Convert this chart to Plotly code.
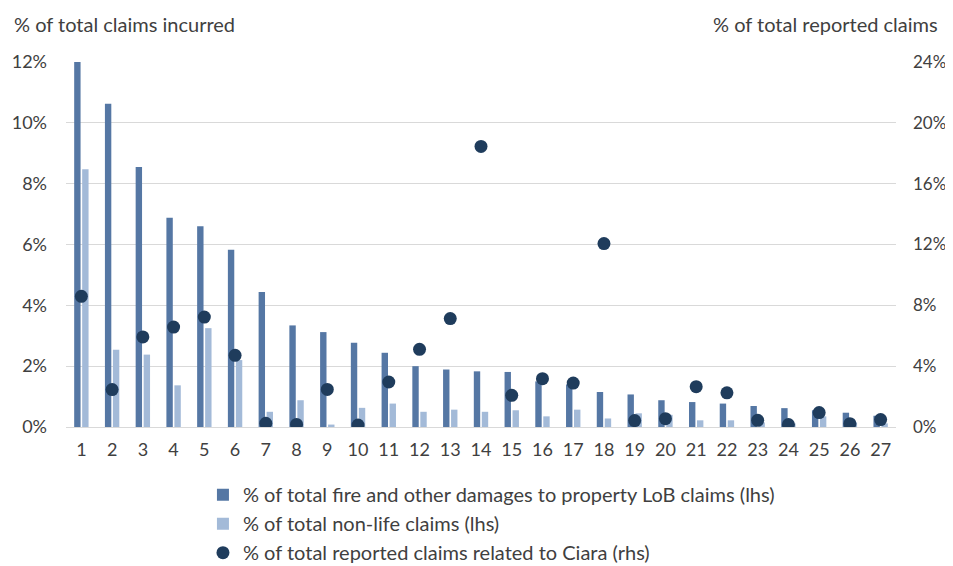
import plotly.graph_objects as go

categories = [str(i) for i in range(1, 28)]
fire_property = [12.0, 10.63, 8.55, 6.88, 6.60, 5.83, 4.44, 3.34, 3.12, 2.77,
                 2.44, 2.0, 1.89, 1.83, 1.81, 1.5, 1.4, 1.15, 1.07, 0.88,
                 0.82, 0.77, 0.69, 0.62, 0.55, 0.47, 0.37]
non_life = [8.47, 2.54, 2.38, 1.37, 3.25, 2.2, 0.5, 0.88, 0.08, 0.63,
            0.77, 0.5, 0.57, 0.5, 0.55, 0.35, 0.57, 0.28, 0.45, 0.4,
            0.22, 0.22, 0.15, 0.12, 0.35, 0.15, 0.12]
ciara = [8.59, 2.46, 5.92, 6.57, 7.23, 4.71, 0.24, 0.17, 2.47, 0.13,
         2.96, 5.11, 7.13, 18.45, 2.08, 3.18, 2.89, 12.06, 0.42, 0.55,
         2.65, 2.25, 0.44, 0.16, 0.95, 0.22, 0.49]
left_ticks = [0, 2, 4, 6, 8, 10, 12]
right_ticks = [0, 4, 8, 12, 16, 20, 24]

FONT = "Lato"
TXT = "#404040"

fig = go.Figure()
fig.add_trace(go.Bar(
    x=categories, y=fire_property,
    name="% of total fire and other damages to property LoB claims (lhs)",
    marker=dict(color="#5577A4", line=dict(width=0)),
    legendgroup="a", yaxis="y",
))
fig.add_trace(go.Bar(
    x=categories, y=non_life,
    name="% of total non-life claims (lhs)",
    marker=dict(color="#A3BAD8", line=dict(width=0)),
    legendgroup="b", yaxis="y",
))
fig.add_trace(go.Scatter(
    x=categories, y=ciara, mode="markers",
    name="% of total reported claims related to Ciara (rhs)",
    marker=dict(color="#1F3C5C", size=13, line=dict(width=0)),
    legendgroup="c", yaxis="y2",
))

fig.update_layout(
    width=945, height=558,
    margin=dict(l=58, r=57, t=54, b=139, autoexpand=False),
    paper_bgcolor="white", plot_bgcolor="white",
    font=dict(family=FONT, size=18, color=TXT),
    barmode="group", bargap=0.48, bargroupgap=0.2,
    showlegend=True,
    legend=dict(
        orientation="v", x=0.165, y=-0.132, xanchor="left", yanchor="top",
        font=dict(family=FONT, size=20, color=TXT),
        tracegroupgap=0, itemwidth=30, traceorder="normal",
        bgcolor="rgba(0,0,0,0)",
    ),
    xaxis=dict(
        type="category", range=[-0.5, 26.5], showgrid=False, zeroline=False,
        showline=True, linecolor="#D9D9D9", linewidth=1,
        ticks="", ticklabelstandoff=6,
        tickfont=dict(family=FONT, size=18, color=TXT),
    ),
    yaxis=dict(
        range=[0, 12], tickvals=left_ticks,
        ticktext=[f"{v}%" for v in left_ticks],
        showgrid=True, gridcolor="#D9D9D9", gridwidth=1,
        zeroline=False, showline=False, ticks="",
        ticklabelstandoff=18,
        tickfont=dict(family=FONT, size=18, color=TXT),
    ),
    yaxis2=dict(
        range=[0, 24], tickvals=right_ticks,
        ticktext=[f"{v}%" for v in right_ticks],
        overlaying="y", side="right", showgrid=False,
        zeroline=False, showline=False, ticks="",
        ticklabelstandoff=16,
        tickfont=dict(family=FONT, size=17, color=TXT),
    ),
    annotations=[
        dict(text="% of total claims incurred", xref="paper", yref="paper",
             x=-0.0651, y=1.104, xanchor="left", yanchor="middle",
             showarrow=False, font=dict(family=FONT, size=20, color=TXT)),
        dict(text="% of total reported claims", xref="paper", yref="paper",
             x=1.053, y=1.104, xanchor="right", yanchor="middle",
             showarrow=False, font=dict(family=FONT, size=20, color=TXT)),
    ],
)

fig.write_html("out.html")
